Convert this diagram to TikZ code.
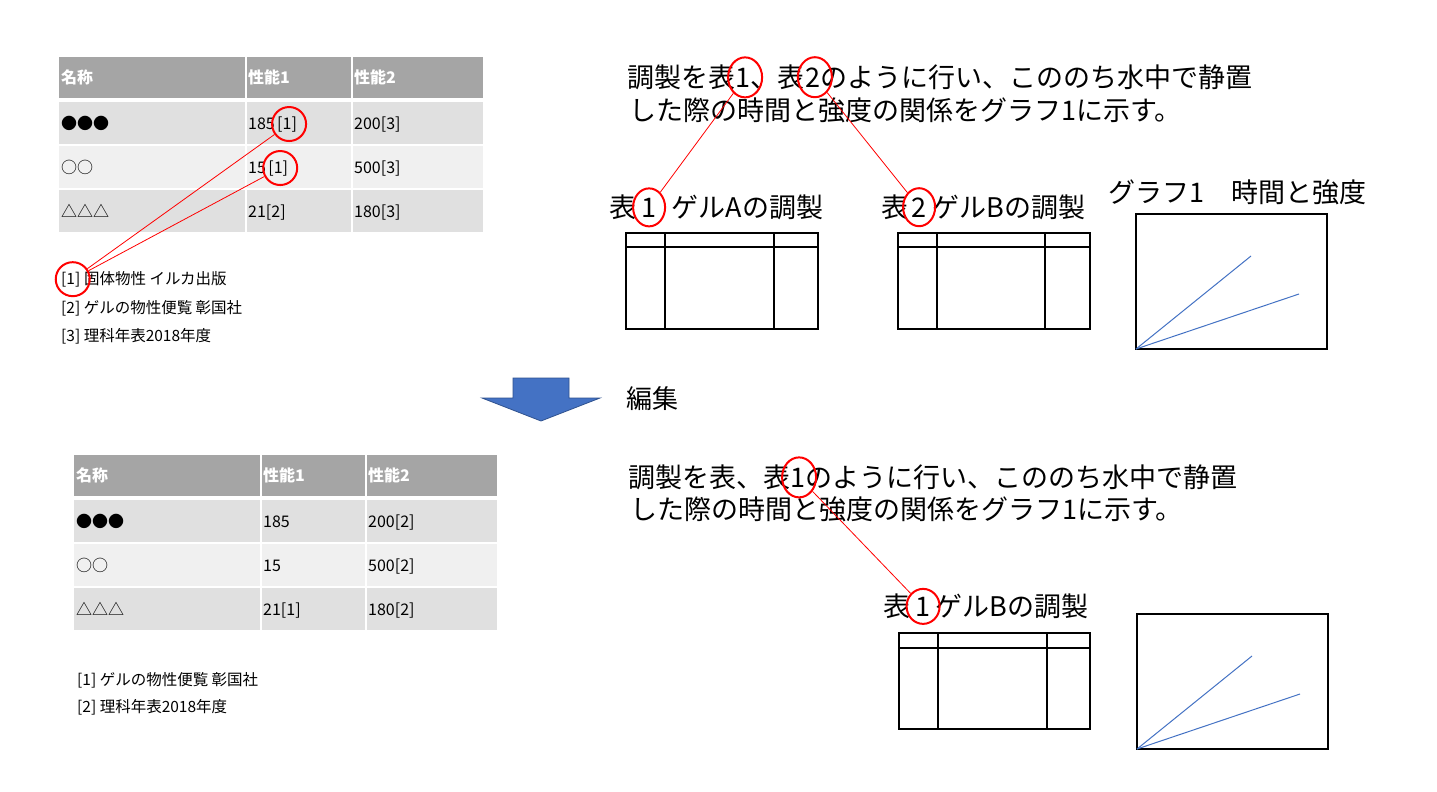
\documentclass[tikz,border=0pt]{standalone}
\usepackage{fontspec}
\newfontfamily\jp{Noto Sans CJK JP}
\usetikzlibrary{shapes.geometric,calc}
\definecolor{hdr}{HTML}{A5A5A5}
\definecolor{rowa}{HTML}{E0E0E0}
\definecolor{rowb}{HTML}{F0F0F0}
\definecolor{chartblue}{HTML}{4472C4}
\definecolor{arrowfill}{HTML}{4472C4}
\definecolor{arrowdraw}{HTML}{2F528F}
\begin{document}
\begin{tikzpicture}[x=1pt,y=-1pt,
  big/.style={inner sep=0, anchor=base west, font=\jp\fontsize{27}{27}\selectfont},
  cell/.style={inner sep=0, anchor=base west, font=\jp\fontsize{16}{16}\selectfont},
  hcell/.style={cell, text=white, font=\jp\bfseries\fontsize{16}{16}\selectfont},
  refx/.style={inner sep=0, anchor=base west, font=\jp\fontsize{15.5}{15.5}\selectfont},
  rcirc/.style={ellipse, draw=red, line width=2, inner sep=0, minimum width=34, minimum height=34},
  redln/.style={red, line width=0.8},
  frame/.style={line width=2},
  chartln/.style={chartblue, line width=1},
  gap/.style={white, line width=2.5}]
\fill[white] (0,0) rectangle (1437,792);
\useasboundingbox (0,0) rectangle (1437,792);

% ---------- top-left table ----------
\fill[hdr] (59,57) rectangle (483,98);
\fill[rowa] (59,102) rectangle (483,144);
\fill[rowb] (59,146) rectangle (483,188);
\fill[rowa] (59,190) rectangle (483,232);
\draw[gap] (246,57) -- (246,232);
\draw[gap] (352,57) -- (352,232);
\node[hcell] (h1) at (61,83.5) {名称};
\node[hcell] (h2) at (248,83.5) {性能1};
\node[hcell] (h3) at (354,83.5) {性能2};
\node[cell] (a1) at (61,129) {●●●};
\node[cell] (a2) at (248,129) {185};
\node[cell] (a2r) at ($(a2.base east)+(2,0)$) {[1]};
\node[cell] (a3) at (354,129) {200[3]};
\node[cell] (b1) at (61,173) {○○};
\node[cell] (b2) at (248,173) {15};
\node[cell] (b2r) at ($(b2.base east)+(2,0)$) {[1]};
\node[cell] (b3) at (354,173) {500[3]};
\node[cell] (c1) at (61,217) {△△△};
\node[cell] (c2) at (248,217) {21[2]};
\node[cell] (c3) at (354,217) {180[3]};

\node[refx] (ref1) at (61,284) {[1]};
\node[refx] (ref1b) at (ref1.base east) {\ 固体物性 イルカ出版};
\node[refx] (ref2) at (61,313) {[2] ゲルの物性便覧 彰国社};
\node[refx] (ref3) at (61,341) {[3] 理科年表2018年度};

\node[rcirc] (ca) at ($(a2r.center)+(2,0)$) {};
\node[rcirc] (cb) at ($(b2r.center)+(2,0)$) {};
\node[rcirc] (cr) at ($(ref1.center)+(2,0)$) {};
\draw[redln] (ca) -- (cr);
\draw[redln] (cb) -- (cr);

% ---------- top-right text ----------
\node[big] (p1a) at (627,87) {調製を表};
\node[big] (p1d1) at (p1a.base east) {1};
\node[big] (p1b) at (p1d1.base east) {、表};
\node[big] (p1d2) at (p1b.base east) {2};
\node[big] (p1c) at (p1d2.base east) {のように行い、こののち水中で静置};
\node[big] (p2) at (629,120) {した際の時間と強度の関係をグラフ1に示す。};

\node[big] (ta) at (609,217) {表};
\node[big] (tad) at ($(ta.base east)+(5,0)$) {1};
\node[big] (tab) at ($(tad.base east)+(15,0)$) {ゲルAの調製};
\node[big] (tb) at (881,217) {表};
\node[big] (tbd) at ($(tb.base east)+(3,0)$) {2};
\node[big] (tbb) at ($(tbd.base east)+(6,0)$) {ゲルBの調製};
\node[big] (tg) at (1108,202) {グラフ1　時間と強度};

\node[rcirc, minimum width=34, minimum height=40] (q1) at ($(p1d1.center)+(2,0)$) {};
\node[rcirc, minimum width=34, minimum height=40] (q2) at ($(p1d2.center)+(2,0)$) {};
\node[rcirc, minimum width=32, minimum height=38] (q3) at (tad.center) {};
\node[rcirc, minimum width=32, minimum height=38] (q4) at (tbd.center) {};
\draw[redln] (q1) -- (q3);
\draw[redln] (q2) -- (q4);

% table A
\draw[frame] (626,233) rectangle (818,329);
\draw[frame] (626,247) -- (818,247);
\draw[frame] (665,233) -- (665,329);
\draw[frame] (774,233) -- (774,329);
% table B
\draw[frame] (898,233) rectangle (1090,329);
\draw[frame] (898,247) -- (1090,247);
\draw[frame] (937,233) -- (937,329);
\draw[frame] (1045,233) -- (1045,329);
% graph 1
\draw[frame] (1136,214) rectangle (1327,349);
\draw[chartln] (1136,349) -- (1251,256);
\draw[chartln] (1136,349) -- (1299,294);

% ---------- arrow ----------
\draw[fill=arrowfill, draw=arrowdraw, line width=0.8]
  (513,378) -- (569,378) -- (569,398) -- (600,398) -- (541,421) -- (482,398) -- (513,398) -- cycle;
\node[big, font=\jp\fontsize{26}{26}\selectfont] (edit) at (626,408) {編集};

% ---------- bottom-left table ----------
\fill[hdr] (74,455) rectangle (497,496);
\fill[rowa] (74,500) rectangle (497,542);
\fill[rowb] (74,544) rectangle (497,586);
\fill[rowa] (74,588) rectangle (497,630);
\draw[gap] (261,455) -- (261,630);
\draw[gap] (366,455) -- (366,630);
\node[hcell] (H1) at (76,481.5) {名称};
\node[hcell] (H2) at (263,481.5) {性能1};
\node[hcell] (H3) at (368,481.5) {性能2};
\node[cell] (A1) at (76,527) {●●●};
\node[cell] (A2) at (263,527) {185};
\node[cell] (A3) at (368,527) {200[2]};
\node[cell] (B1) at (76,571) {○○};
\node[cell] (B2) at (263,571) {15};
\node[cell] (B3) at (368,571) {500[2]};
\node[cell] (C1) at (76,615) {△△△};
\node[cell] (C2) at (263,615) {21[1]};
\node[cell] (C3) at (368,615) {180[2]};
\node[refx] (Ref1) at (77,685) {[1] ゲルの物性便覧 彰国社};
\node[refx] (Ref2) at (77,712) {[2] 理科年表2018年度};

% ---------- bottom-right ----------
\node[big] (s1a) at (628,487) {調製を表、表};
\node[big] (s1d) at (s1a.base east) {1};
\node[big] (s1b) at (s1d.base east) {のように行い、こののち水中で静置};
\node[big] (s2) at (630,519) {した際の時間と強度の関係をグラフ1に示す。};
\node[big] (tc) at (883,616) {表};
\node[big] (tcd) at ($(tc.base east)+(5,0)$) {1};
\node[big] (tcb) at ($(tcd.base east)+(5,0)$) {ゲルBの調製};
\node[rcirc, minimum width=34, minimum height=40] (q5) at ($(s1d.center)+(1,0)$) {};
\node[rcirc, minimum width=33, minimum height=35] (q6) at (tcd.center) {};
\draw[redln] (q5) -- (q6);

\draw[frame] (899,633) rectangle (1090,729);
\draw[frame] (899,648) -- (1090,648);
\draw[frame] (938,633) -- (938,729);
\draw[frame] (1047,633) -- (1047,729);
\draw[frame] (1137,614) rectangle (1328,749);
\draw[chartln] (1137,749) -- (1252,656);
\draw[chartln] (1137,749) -- (1300,694);
\end{tikzpicture}
\end{document}
